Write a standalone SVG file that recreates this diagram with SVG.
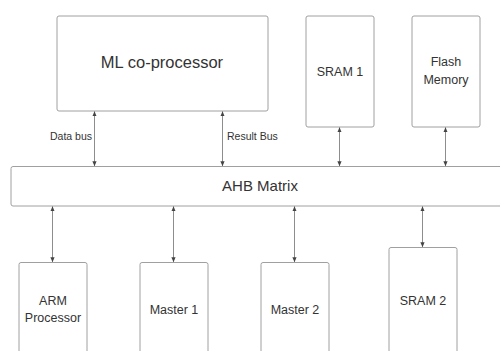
<svg xmlns="http://www.w3.org/2000/svg" width="500" height="351" viewBox="0 0 500 351">
<style>
.box{fill:#fff;stroke:#a0a0a0;stroke-width:1}
.t{font-family:"Liberation Sans",Arial,sans-serif;fill:#333;text-anchor:middle}
.lbl{font-family:"Liberation Sans",Arial,sans-serif;fill:#333;font-size:10.5px}
.c{stroke:#707070;stroke-width:0.8;fill:none;marker-start:url(#a);marker-end:url(#a)}
</style>
<defs>
<marker id="a" viewBox="0 0 5 5" refX="4.8" refY="2.5" markerWidth="5" markerHeight="5" markerUnits="userSpaceOnUse" orient="auto-start-reverse">
<path d="M0,0.4 L5,2.5 L0,4.6 z" fill="#444"/>
</marker>
</defs>
<rect width="500" height="351" fill="#fff"/>
<g id="ml">
<rect class="box" x="57" y="16" width="211" height="95" rx="2"/>
<text class="t" x="162" y="68" font-size="16.5">ML co-processor</text>
</g>
<g id="sram1">
<rect class="box" x="306" y="16" width="68" height="111" rx="2"/>
<text class="t" x="340" y="76" font-size="12.5">SRAM 1</text>
</g>
<g id="flash">
<rect class="box" x="412" y="16" width="68" height="111" rx="2"/>
<text class="t" x="446" y="66" font-size="12.5">Flash</text>
<text class="t" x="446" y="84" font-size="12.5">Memory</text>
</g>
<g id="ahb">
<rect class="box" x="11" y="166.5" width="495" height="39.5" rx="2"/>
<text class="t" x="260" y="190.5" font-size="15">AHB Matrix</text>
</g>
<g id="arm">
<rect class="box" x="19" y="262.5" width="68" height="100" rx="2"/>
<text class="t" x="53" y="305" font-size="12.5">ARM</text>
<text class="t" x="53" y="322" font-size="12.5">Processor</text>
</g>
<g id="master1">
<rect class="box" x="140" y="262.5" width="68" height="100" rx="2"/>
<text class="t" x="174" y="314" font-size="12.5">Master 1</text>
</g>
<g id="master2">
<rect class="box" x="261" y="262.5" width="68" height="100" rx="2"/>
<text class="t" x="295" y="314" font-size="12.5">Master 2</text>
</g>
<g id="sram2">
<rect class="box" x="389" y="247.5" width="68" height="115" rx="2"/>
<text class="t" x="423" y="305" font-size="12.5">SRAM 2</text>
</g>
<g id="connectors">
<line class="c" x1="94.5" y1="111.5" x2="94.5" y2="166"/>
<line class="c" x1="222.5" y1="111.5" x2="222.5" y2="166"/>
<line class="c" x1="339.5" y1="127.5" x2="339.5" y2="166"/>
<line class="c" x1="445.5" y1="127.5" x2="445.5" y2="166"/>
<line class="c" x1="52.5" y1="206.5" x2="52.5" y2="262"/>
<line class="c" x1="173.5" y1="206.5" x2="173.5" y2="262"/>
<line class="c" x1="294.5" y1="206.5" x2="294.5" y2="262"/>
<line class="c" x1="422.5" y1="206.5" x2="422.5" y2="247"/>
<text class="lbl" x="92" y="139.5" text-anchor="end">Data bus</text>
<text class="lbl" x="227" y="139.5">Result Bus</text>
</g>
</svg>
